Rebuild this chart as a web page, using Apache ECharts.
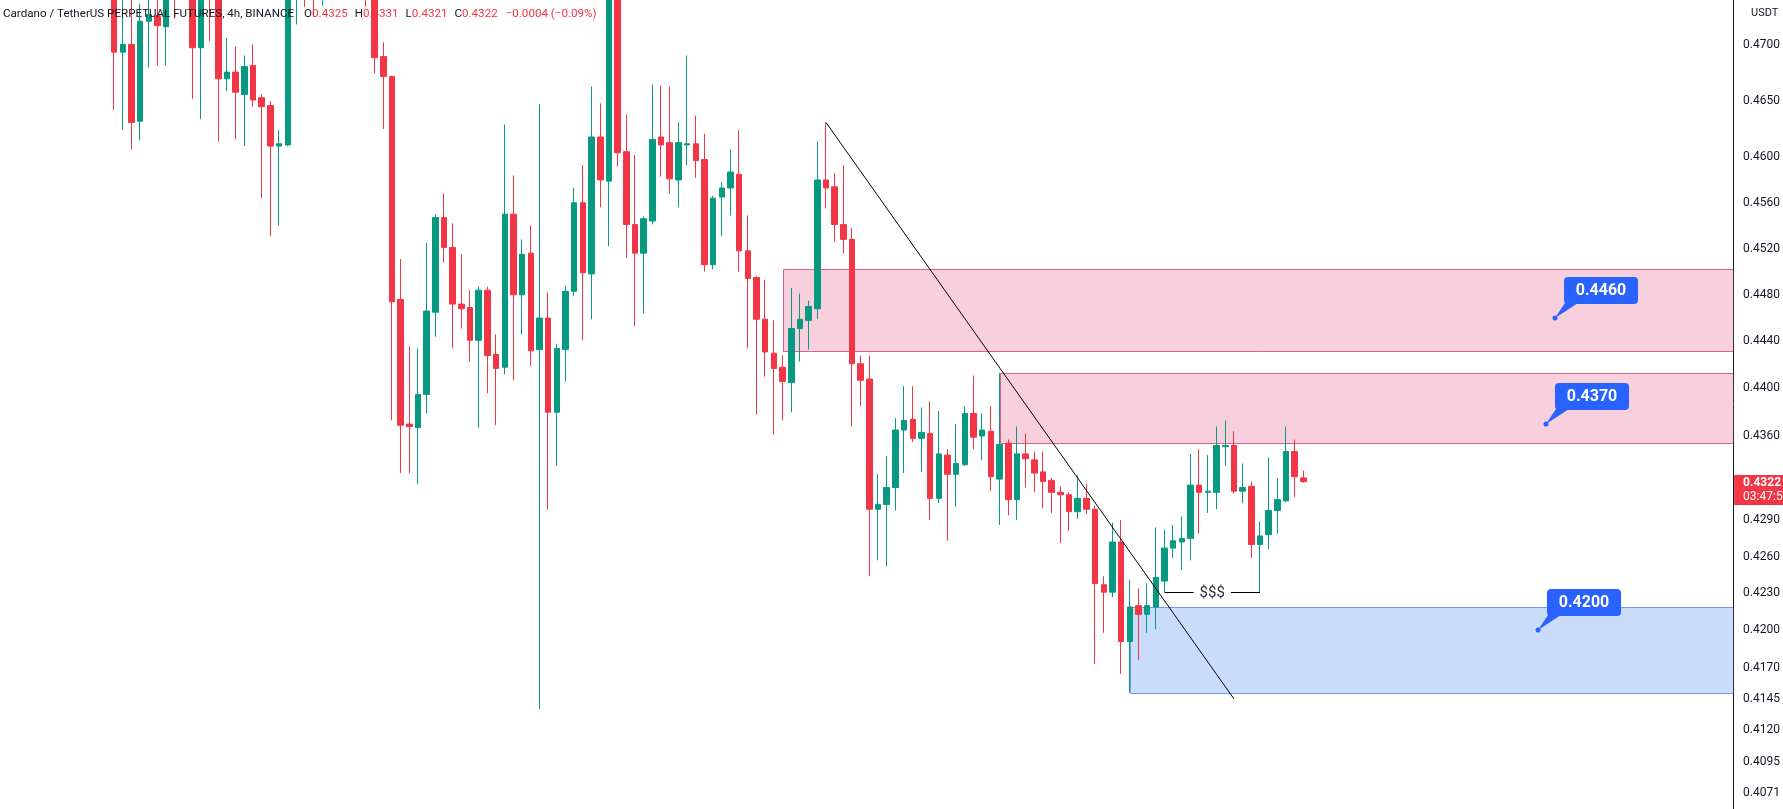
<!DOCTYPE html>
<html><head><meta charset="utf-8">
<script src="https://cdn.jsdelivr.net/npm/echarts@6/dist/echarts.min.js"></script>
<style>html,body{margin:0;padding:0;background:#fff;overflow:hidden}#c{width:1783px;height:809px}</style>
</head><body><div id="c"></div>
<script>
// ---- data (4h bars) ----
const opens = [0.4760,0.4694,0.4701,0.4632,0.4722,0.4727,0.4717,0.4766,0.4752,0.4788,0.4698,0.4780,0.4758,0.4670,0.4676,0.4656,0.4682,0.4653,0.4646,0.4610,
0.4611,0.4770,0.4790,0.4772,0.4755,0.4778,0.4795,0.4780,0.4768,0.4778,0.4762,0.4690,0.4672,0.4476,0.4370,0.4367,0.4395,0.4465,0.4547,0.4521,
0.4472,0.4469,0.4441,0.4484,0.4429,0.4418,0.4550,0.4480,0.4516,0.4433,0.4460,0.4380,0.4433,0.4483,0.4560,0.4498,0.4618,0.4579,0.4768,0.4605,
0.4541,0.4516,0.4544,0.4618,0.4613,0.4580,0.4611,0.4612,0.4598,0.4506,0.4565,0.4573,0.4585,0.4518,0.4495,0.4459,0.4430,0.4418,0.4405,0.4451,
0.4458,0.4468,0.4580,0.4574,0.4541,0.4528,0.4421,0.4408,0.4299,0.4303,0.4317,0.4365,0.4374,0.4358,0.4362,0.4308,0.4344,0.4328,0.4336,0.4379,
0.4360,0.4364,0.4324,0.4354,0.4307,0.4345,0.4340,0.4330,0.4323,0.4313,0.4311,0.4297,0.4308,0.4299,0.4237,0.4231,0.4272,0.4191,0.4220,0.4213,
0.4219,0.4240,0.4267,0.4272,0.4275,0.4319,0.4313,0.4313,0.4351,0.4352,0.4314,0.4318,0.4270,0.4278,0.4298,0.4306,0.4347,0.4325];
const highs = [0.4772,0.4745,0.4748,0.4738,0.4745,0.4748,0.4772,0.4790,0.4795,0.4800,0.4795,0.4790,0.4770,0.4707,0.4699,0.4691,0.4701,0.4656,0.4650,0.4624,
0.4785,0.4800,0.4805,0.4785,0.4790,0.4805,0.4808,0.4790,0.4785,0.4788,0.4770,0.4703,0.4673,0.4511,0.4436,0.4434,0.4525,0.4550,0.4568,0.4542,
0.4515,0.4484,0.4487,0.4487,0.4446,0.4629,0.4584,0.4528,0.4540,0.4647,0.4482,0.4438,0.4488,0.4573,0.4593,0.4663,0.4648,0.4790,0.4785,0.4638,
0.4602,0.4548,0.4665,0.4664,0.4663,0.4631,0.4691,0.4637,0.4621,0.4566,0.4578,0.4607,0.4624,0.4549,0.4496,0.4493,0.4458,0.4428,0.4486,0.4481,
0.4475,0.4614,0.4631,0.4586,0.4593,0.4538,0.4428,0.4428,0.4328,0.4343,0.4375,0.4402,0.4402,0.4384,0.4389,0.4381,0.4349,0.4370,0.4385,0.4411,
0.4379,0.4385,0.4413,0.4357,0.4368,0.4362,0.4347,0.4347,0.4325,0.4318,0.4313,0.4327,0.4320,0.4302,0.4244,0.4288,0.4290,0.4241,0.4234,0.4238,
0.4284,0.4282,0.4286,0.4293,0.4345,0.4349,0.4344,0.4368,0.4373,0.4364,0.4337,0.4322,0.4289,0.4342,0.4325,0.4368,0.4357,0.4331];
const lows = [0.4642,0.4624,0.4607,0.4615,0.4680,0.4682,0.4682,0.4724,0.4748,0.4652,0.4634,0.4704,0.4614,0.4659,0.4616,0.4610,0.4645,0.4564,0.4531,0.4540,
0.4610,0.4719,0.4735,0.4726,0.4736,0.4760,0.4770,0.4755,0.4750,0.4735,0.4675,0.4625,0.4373,0.4329,0.4329,0.4320,0.4379,0.4444,0.4508,0.4434,
0.4451,0.4423,0.4367,0.4396,0.4369,0.4412,0.4407,0.4446,0.4419,0.4137,0.4299,0.4335,0.4406,0.4479,0.4441,0.4459,0.4556,0.4522,0.4592,0.4512,
0.4453,0.4464,0.4541,0.4583,0.4568,0.4556,0.4593,0.4582,0.4500,0.4502,0.4531,0.4549,0.4500,0.4434,0.4378,0.4410,0.4361,0.4373,0.4380,0.4423,
0.4433,0.4459,0.4555,0.4526,0.4516,0.4368,0.4385,0.4244,0.4257,0.4252,0.4298,0.4329,0.4355,0.4330,0.4290,0.4304,0.4273,0.4301,0.4335,0.4349,
0.4340,0.4314,0.4286,0.4294,0.4290,0.4317,0.4313,0.4300,0.4296,0.4271,0.4281,0.4291,0.4295,0.4173,0.4198,0.4227,0.4165,0.4150,0.4176,0.4198,
0.4201,0.4231,0.4259,0.4249,0.4257,0.4279,0.4296,0.4299,0.4335,0.4312,0.4304,0.4259,0.4231,0.4266,0.4279,0.4305,0.4309,0.4321];
const closes = [0.4694,0.4701,0.4631,0.4722,0.4728,0.4718,0.4765,0.4752,0.4788,0.4698,0.4780,0.4758,0.4670,0.4676,0.4658,0.4681,0.4651,0.4645,0.4610,0.4612,
0.4770,0.4790,0.4772,0.4755,0.4778,0.4795,0.4780,0.4768,0.4778,0.4762,0.4689,0.4672,0.4474,0.4369,0.4368,0.4395,0.4466,0.4547,0.4521,0.4472,
0.4468,0.4441,0.4484,0.4428,0.4417,0.4550,0.4480,0.4515,0.4432,0.4460,0.4380,0.4434,0.4483,0.4560,0.4499,0.4618,0.4580,0.4768,0.4604,0.4541,
0.4516,0.4546,0.4616,0.4611,0.4581,0.4613,0.4612,0.4597,0.4506,0.4564,0.4573,0.4587,0.4518,0.4494,0.4459,0.4431,0.4417,0.4406,0.4451,0.4459,
0.4470,0.4580,0.4573,0.4541,0.4528,0.4421,0.4407,0.4299,0.4303,0.4317,0.4365,0.4373,0.4358,0.4363,0.4308,0.4345,0.4328,0.4337,0.4379,0.4359,
0.4365,0.4326,0.4353,0.4307,0.4345,0.4341,0.4329,0.4322,0.4313,0.4311,0.4297,0.4308,0.4299,0.4238,0.4231,0.4272,0.4191,0.4219,0.4213,0.4220,
0.4243,0.4267,0.4273,0.4275,0.4319,0.4313,0.4314,0.4352,0.4352,0.4314,0.4317,0.4270,0.4277,0.4298,0.4307,0.4347,0.4326,0.4322];

const priceTicks = [0.4700,0.4650,0.4600,0.4560,0.4520,0.4480,0.4440,0.4400,0.4360,0.4290,0.4260,0.4230,0.4200,0.4170,0.4145,0.4120,0.4095,0.4071];
const priceMin = 0.40582, priceMax = 0.47413;

// zones: start bar, top price, bottom price, kind (0 = supply pink, 1 = demand blue)
const zoneStart  = [77, 102, 117];
const zoneTop    = [0.4502, 0.4413, 0.4219];
const zoneBottom = [0.4432, 0.4354, 0.4150];
const zoneKind   = [0, 0, 1];
// trend line: [bar, price]
const trendFrom = [82, 0.4631];
const trendTo   = [129, 0.4145];
// liquidity line
const sweepBars = [121, 132];
const sweepPrice = 0.4231;
const sweepText = '$$$';
// callout labels
const calloutBars   = [166, 165, 164];
const calloutPrices = [0.4460, 0.4370, 0.4200];

const symbolName = 'Cardano / TetherUS PERPETUAL FUTURES, 4h, BINANCE';
const quoteUnit = 'USDT';
const countdown = '03:47:54';

// ---- layout helpers ----
const PAD = 12, TOTAL = 199;
const categories = Array.from({length: TOTAL}, (_, k) => String(k - PAD));
const candleData = categories.map((_, k) => {
  const i = k - PAD;
  if (i < 0 || i >= opens.length) return ['-', '-', '-', '-'];
  return [opens[i], closes[i], lows[i], highs[i]];
});
const UP = '#089981', DOWN = '#f23645', INK = '#131722';
const zoneFill = ['#f8cfdd', '#c9dcfa'];
const zoneStroke = ['#dc5f91', '#6c9cf0'];

const last = opens.length - 1;
const fmt = v => v.toFixed(4);
const minus = s => s.replace('-', '\u2212');
const chg = closes[last] - closes[last - 1];
const pct = chg / closes[last - 1] * 100;

const chart = echarts.init(document.getElementById('c'), null, {renderer: 'canvas'});
const crisp = v => Math.round(v) + 0.5;
const TF = 11.6;

chart.setOption({
  animation: false,
  backgroundColor: '#ffffff',
  textStyle: {fontFamily: 'Roboto'},
  title: [{
    left: -2, top: 3,
    text: `{n|${symbolName}}{k0|O}{v|${fmt(opens[last])}}{k|H}{v|${fmt(highs[last])}}{k|L}{v|${fmt(lows[last])}}{k|C}{v|${fmt(closes[last])}}{d|${minus(chg.toFixed(4))} (${minus(pct.toFixed(2))}%)}`,
    textStyle: {fontSize: TF, fontWeight: 'normal', fontFamily: 'Roboto', rich: {
      n: {color: INK, fontSize: TF, fontFamily: 'Roboto'},
      k0: {color: INK, fontSize: TF, fontFamily: 'Roboto', padding: [0, 0, 0, 10]},
      k: {color: INK, fontSize: TF, fontFamily: 'Roboto', padding: [0, 0, 0, 7]},
      v: {color: DOWN, fontSize: TF, fontFamily: 'Roboto'},
      d: {color: DOWN, fontSize: TF, fontFamily: 'Roboto', padding: [0, 0, 0, 8]}
    }},
    z: 10
  }, {
    left: 1746, top: 3, text: quoteUnit,
    textStyle: {fontSize: 11, fontWeight: 'normal', color: INK, fontFamily: 'Roboto'}
  }],
  grid: {left: 5.64, right: 47, top: 0, bottom: 0, containLabel: false},
  xAxis: {type: 'category', data: categories, boundaryGap: true, show: false},
  yAxis: {
    type: 'log', logBase: 10, position: 'right', min: priceMin, max: priceMax,
    axisLine: {show: true, lineStyle: {color: INK, width: 1}},
    axisTick: {show: false},
    splitLine: {show: false},
    axisLabel: {customValues: priceTicks, formatter: v => Number(v).toFixed(4), color: INK, fontSize: 12, fontFamily: 'Roboto', margin: 10, padding: [4, 0, 0, 0]}
  },
  series: [
    {
      type: 'custom', z: 1, silent: true,
      data: zoneStart.map((s, j) => [s + PAD, zoneTop[j], zoneBottom[j], zoneKind[j]]),
      renderItem(params, api) {
        const a = api.coord([api.value(0), api.value(1)]);
        const b = api.coord([api.value(0), api.value(2)]);
        const kind = api.value(3);
        const right = params.coordSys.x + params.coordSys.width;
        const x0 = crisp(a[0]), y0 = crisp(a[1]), y1 = crisp(b[1]);
        return {type: 'group', children: [
          {type: 'rect', shape: {x: x0, y: y0, width: right - x0, height: y1 - y0}, style: {fill: zoneFill[kind]}},
          {type: 'polyline', shape: {points: [[right, y0], [x0, y0], [x0, y1], [right, y1]]}, style: {stroke: zoneStroke[kind], lineWidth: 1, fill: null}}
        ]};
      }
    },
    {
      type: 'candlestick', z: 2, data: candleData, barWidth: 6, clip: true,
      itemStyle: {color: UP, color0: DOWN, borderColor: UP, borderColor0: DOWN, borderWidth: 1}
    },
    {
      type: 'custom', z: 3, silent: true,
      data: [[trendFrom[0] + PAD, trendFrom[1], trendTo[0] + PAD, trendTo[1]]],
      renderItem(params, api) {
        const a = api.coord([api.value(0), api.value(1)]);
        const b = api.coord([api.value(2), api.value(3)]);
        return {type: 'line', shape: {x1: a[0], y1: a[1], x2: b[0], y2: b[1]}, style: {stroke: '#000', lineWidth: 1}};
      }
    },
    {
      type: 'custom', z: 3, silent: true,
      data: [[sweepBars[0] + PAD, sweepPrice, sweepBars[1] + PAD]],
      renderItem(params, api) {
        const a = api.coord([api.value(0), api.value(1)]);
        const b = api.coord([api.value(2), api.value(1)]);
        const y = crisp(a[1]);
        return {type: 'group', children: [
          {type: 'line', shape: {x1: a[0], y1: y, x2: b[0], y2: y}, style: {stroke: '#000', lineWidth: 1}},
          {type: 'text', style: {text: sweepText, x: (a[0] + b[0]) / 2, y: y + 1, align: 'center', verticalAlign: 'middle',
            fill: '#333', font: '15px Roboto', backgroundColor: '#fff', padding: [0, 6]}}
        ]};
      }
    },
    {
      type: 'custom', z: 4, silent: true,
      data: calloutBars.map((b, j) => [b + PAD, calloutPrices[j]]),
      renderItem(params, api) {
        const p = api.coord([api.value(0), api.value(1)]);
        const label = api.value(1).toFixed(4);
        return {type: 'group', x: Math.round(p[0]), y: Math.round(p[1]), children: [
          {type: 'polygon', shape: {points: [[10, -15], [23, -15], [0, 0]]}, style: {fill: '#2962ff'}},
          {type: 'rect', shape: {x: 9, y: -41, width: 74, height: 27, r: 4}, style: {fill: '#2962ff'}},
          {type: 'circle', shape: {cx: 0, cy: 0, r: 2.5}, style: {fill: '#2962ff'}},
          {type: 'text', style: {text: label, x: 46, y: -27, align: 'center', verticalAlign: 'middle', fill: '#fff', font: 'bold 16px Roboto'}}
        ]};
      }
    },
    {
      type: 'custom', z: 5, silent: true,
      data: [[last + PAD, closes[last]]],
      renderItem(params, api) {
        const p = api.coord([api.value(0), api.value(1)]);
        const right = params.coordSys.x + params.coordSys.width;
        const y = Math.round(p[1]);
        return {type: 'group', children: [
          {type: 'rect', shape: {x: right + 1, y: y - 6, width: 60, height: 30}, style: {fill: DOWN}},
          {type: 'text', style: {text: api.value(1).toFixed(4), x: right + 10, y: y + 2, verticalAlign: 'middle', fill: '#fff', font: 'bold 12px Roboto'}},
          {type: 'text', style: {text: countdown, x: right + 10, y: y + 16, verticalAlign: 'middle', fill: '#fff', font: '12px Roboto'}}
        ]};
      }
    }
  ]
});
</script></body></html>
